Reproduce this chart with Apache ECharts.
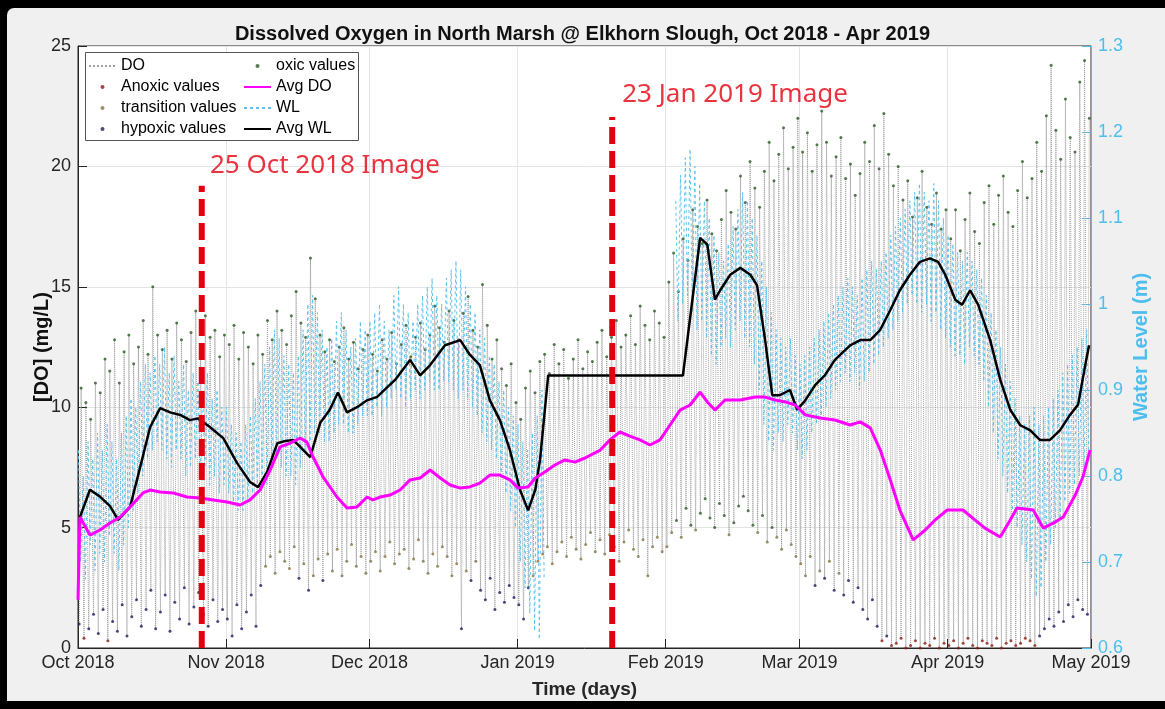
<!DOCTYPE html>
<html><head><meta charset="utf-8">
<script src="https://cdn.jsdelivr.net/npm/echarts@6/dist/echarts.min.js"></script>
<style>
html,body{margin:0;padding:0;background:#000;width:1165px;height:709px;overflow:hidden}
#frame{position:absolute;left:7px;top:8px;width:1158px;height:693px;background:#f0f0f0;border-radius:7px 0 0 0}
#chart{position:absolute;left:0;top:0;width:1165px;height:709px}
</style></head><body><div id="frame"></div><div id="chart"></div>
<script>
// ---- DATA (day index 0 = 1 Oct 2018) ----
const monthNames = ['Jan','Feb','Mar','Apr','May','Jun','Jul','Aug','Sep','Oct','Nov','Dec'];
// Daily DO maximum (mg/L)
const doHigh = [
  10.8,10.2,9.5,11.0,10.6,12.0,11.5,12.8,11.0,12.3,13.0,11.8,12.5,13.6,12.2,15.0,13.0,12.4,13.2,12.0,13.5,12.8,11.9,13.1,14.0,12.5,13.8,12.9,13.2,12.1,13.0, // Oct
  12.6,13.4,12.0,13.1,12.5,11.8,13.0,12.2,13.6,12.8,14.0,13.2,12.6,13.8,14.8,13.5,12.9,16.2,14.5,13.0,12.3,12.8,11.9,12.5,13.3,12.0,12.7,11.6,12.4,13.0, // Nov
  12.2,11.5,12.8,12.0,13.1,11.8,12.6,13.4,12.1,12.9,13.5,12.4,13.0,14.2,13.3,12.7,14.0,13.6,12.8,13.9,14.6,13.2,12.5,15.1,13.4,12.0,12.8,11.6,10.9,11.8,10.2, // Dec
  9.5,10.8,11.5,10.6,11.9,12.2,11.4,12.6,11.8,12.4,11.2,12.0,12.8,11.6,12.3,11.9,12.7,13.2,12.1,12.9,13.6,12.5,13.0,13.8,12.6,14.2,13.4,12.8,14.0,13.5,12.9, // Jan
  15.2,16.4,14.8,17.0,16.1,18.2,17.5,16.8,18.6,17.2,16.5,17.8,19.0,18.1,17.4,19.6,18.5,20.2,19.1,18.3,19.8,21.0,19.4,20.5,21.6,19.9,20.8,22.0, // Feb
  20.6,21.4,19.8,20.9,22.3,21.0,19.6,20.4,21.2,19.5,20.1,18.8,19.7,21.0,20.2,21.7,19.9,22.2,20.5,19.2,20.0,18.6,19.4,17.9,18.7,19.8,18.3,17.6,18.9,17.4,18.2, // Mar
  17.0,18.2,16.5,17.8,18.9,17.3,16.8,18.5,19.2,17.6,18.8,19.6,18.1,17.5,19.0,20.2,18.7,19.5,21.0,19.8,22.1,24.2,21.5,20.3,22.8,21.2,20.6,23.5,24.4,22.0 // Apr
];
// Daily DO minimum (mg/L)
const doLow = [
  1.0,0.4,0.8,1.4,0.6,1.6,0.3,1.1,0.7,1.8,0.5,1.3,2.0,0.9,1.6,2.4,0.8,1.5,2.2,0.7,1.9,1.2,2.5,1.0,1.7,2.3,1.4,0.9,2.0,1.1,1.6,
  1.2,0.5,1.8,0.8,1.5,2.2,0.9,2.6,3.4,3.8,3.1,4.0,3.6,3.3,4.2,2.9,3.5,2.4,3.0,3.7,2.8,3.9,3.2,4.1,3.0,3.6,4.3,3.4,3.8,3.1,
  3.6,4.0,3.2,3.8,4.4,3.5,3.9,4.1,3.3,3.7,4.5,3.6,3.1,3.9,3.4,4.2,3.8,3.0,3.5,0.8,3.2,2.8,3.6,2.4,2.0,2.9,1.6,2.3,1.9,2.6,2.1,
  1.8,1.2,2.5,3.0,3.6,3.9,4.2,3.5,4.0,4.4,3.8,4.6,4.1,3.7,4.3,4.8,4.0,4.5,3.9,4.7,4.2,3.6,4.4,4.9,4.1,3.8,4.5,3.0,4.2,4.6,4.0,
  4.2,4.8,5.3,4.6,5.8,5.1,4.9,5.6,6.2,5.4,5.0,6.0,5.5,4.7,5.2,5.9,6.3,5.7,5.1,4.8,5.5,4.4,5.0,4.6,4.1,4.9,4.3,3.8,
  3.5,3.0,3.8,2.6,3.2,2.9,3.6,2.4,3.1,2.2,2.8,1.9,2.5,1.6,1.2,2.0,0.9,0.3,0.5,0.1,0.2,0.4,0.0,0.1,0.3,0.0,0.2,0.1,0.4,0.0,0.2,
  0.1,0.3,0.0,0.2,0.4,0.1,0.0,0.3,0.2,0.1,0.4,0.0,0.2,0.3,0.1,0.2,0.4,0.3,0.1,0.5,0.8,1.2,0.9,1.5,1.1,1.8,1.3,2.0,1.6,1.4
];
// Daily water-level high / low (m); null = no record
const wlHigh = [
  0.83,0.80,0.84,0.82,0.85,0.83,0.86,0.84,0.82,0.85,0.87,0.89,0.88,0.91,0.93,0.92,0.94,0.93,0.95,0.92,0.94,0.91,0.93,0.90,0.92,0.91,0.90,0.92,0.89,0.90,0.88,
  0.88,0.86,0.85,0.84,0.86,0.87,0.89,0.91,0.93,0.95,0.97,0.96,0.94,0.93,0.92,0.94,0.97,1.00,1.01,0.99,0.97,0.95,0.96,0.98,0.99,0.97,0.95,0.96,0.98,0.97,
  0.98,0.99,1.00,0.98,0.97,1.01,1.02,1.00,0.99,0.98,1.00,1.01,1.02,1.03,1.01,1.00,1.03,1.04,1.05,1.04,1.02,1.00,0.99,0.97,0.96,0.94,0.93,0.91,0.90,0.88,0.87,
  0.86,0.84,0.83,0.85,0.87,0.90,null,null,null,null,null,null,null,null,null,null,null,null,null,null,null,null,null,null,null,null,null,null,null,null,null,
  null,null,1.12,1.15,1.17,1.18,1.16,1.14,1.12,1.10,1.08,1.06,1.05,1.07,1.09,1.11,1.13,1.12,1.10,1.08,1.05,1.02,0.99,0.97,0.96,0.95,0.96,0.94,
  0.93,0.94,0.95,0.96,0.97,0.98,0.99,1.00,1.01,1.02,1.03,1.02,1.01,1.03,1.04,1.05,1.04,1.05,1.06,1.08,1.09,1.10,1.11,1.12,1.13,1.14,1.13,1.12,1.14,1.12,1.10,
  1.08,1.07,1.06,1.05,1.06,1.05,1.04,1.03,1.01,0.99,0.97,0.95,0.93,0.91,0.89,0.87,0.86,0.87,0.88,0.86,0.87,0.88,0.89,0.90,0.92,0.93,0.94,0.95,0.96,0.97
];
const wlLow = [
  0.70,0.68,0.72,0.69,0.71,0.70,0.73,0.71,0.69,0.72,0.74,0.76,0.78,0.80,0.82,0.83,0.84,0.83,0.82,0.81,0.83,0.82,0.80,0.81,0.82,0.80,0.81,0.79,0.80,0.78,0.79,
  0.78,0.77,0.76,0.76,0.77,0.78,0.79,0.80,0.79,0.81,0.82,0.81,0.80,0.80,0.79,0.81,0.83,0.84,0.85,0.85,0.84,0.84,0.85,0.86,0.86,0.85,0.85,0.86,0.87,0.87,
  0.87,0.88,0.87,0.88,0.89,0.90,0.89,0.88,0.89,0.90,0.89,0.90,0.91,0.90,0.90,0.91,0.91,0.90,0.89,0.90,0.89,0.88,0.87,0.85,0.84,0.83,0.82,0.80,0.78,0.76,0.74,
  0.70,0.67,0.64,0.62,0.61,0.68,null,null,null,null,null,null,null,null,null,null,null,null,null,null,null,null,null,null,null,null,null,null,null,null,null,
  null,null,0.98,1.00,1.01,0.99,0.97,0.98,0.96,0.94,0.93,0.95,0.96,0.95,0.97,0.98,0.96,0.95,0.93,0.90,0.86,0.84,0.83,0.85,0.84,0.86,0.85,0.83,
  0.82,0.83,0.85,0.86,0.87,0.88,0.89,0.90,0.91,0.92,0.91,0.92,0.90,0.91,0.92,0.93,0.94,0.95,0.96,0.97,0.98,0.99,1.00,1.01,1.00,0.99,1.00,0.98,0.99,0.97,0.96,
  0.95,0.94,0.94,0.93,0.95,0.94,0.93,0.91,0.88,0.85,0.82,0.80,0.78,0.76,0.74,0.72,0.70,0.68,0.66,0.67,0.70,0.72,0.74,0.75,0.77,0.78,0.79,0.80,0.81,0.82
];
// Running average of DO: [day, mg/L]
const avgDO = [
  [0.0,2.0],[0.4,5.44],[2.5,4.69],[4.6,4.90],[6.7,5.19],[8.8,5.44],[10.9,5.86],[13.6,6.44],[15.1,6.56],[17.2,6.48],[19.9,6.44],[22.8,6.27],
  [25.5,6.23],[28.3,6.15],[31.2,6.06],[33.9,5.94],[36.0,6.15],[38.1,6.56],[40.2,7.39],[42.3,8.35],[44.4,8.51],[46.5,8.72],[47.9,8.55],
  [49.2,7.93],[51.3,7.10],[54.2,6.27],[56.3,5.81],[58.4,5.86],[60.5,6.27],[61.7,6.15],[63.2,6.27],[65.3,6.35],[67.4,6.56],[69.5,6.98],
  [71.6,7.06],[73.7,7.39],[75.8,7.06],[77.9,6.77],[80.0,6.64],[82.0,6.69],[84.1,6.85],[86.2,7.18],[88.3,7.18],[90.4,6.98],[92.1,6.64],
  [94.2,6.69],[95.7,7.06],[97.7,7.31],[99.8,7.60],[101.9,7.81],[104.0,7.72],[106.1,7.89],[109.3,8.22],[111.3,8.64],[113.4,8.97],
  [115.5,8.80],[117.6,8.64],[119.7,8.43],[121.8,8.64],[123.9,9.26],[126.0,9.88],[128.1,10.09],[130.2,10.63],[131.7,10.22],[133.3,9.88],
  [135.4,10.30],[138.6,10.30],[141.7,10.42],[143.8,10.42],[145.9,10.30],[148.0,10.22],[150.1,10.09],[152.2,9.68],[155.3,9.55],
  [158.4,9.47],[161.6,9.26],[163.7,9.39],[165.8,9.14],[167.9,8.22],[170.0,6.98],[172.0,5.73],[174.8,4.49],[177.3,4.90],[179.4,5.32],
  [181.9,5.73],[185.2,5.73],[187.7,5.32],[189.8,4.98],[193.0,4.61],[195.1,5.32],[196.5,5.81],[199.9,5.73],[202.0,4.98],[204.5,5.23],
  [206.2,5.44],[208.7,6.35],[210.3,7.10],[211.8,8.22]
];
// Running average of water level: [day, m]
const avgWL = [
  [0.4,0.752],[2.5,0.784],[4.6,0.776],[6.7,0.765],[8.4,0.749],[10.9,0.764],[13.0,0.810],[15.1,0.857],[17.2,0.879],[19.3,0.874],
  [21.4,0.871],[23.4,0.865],[25.1,0.867],[27.6,0.857],[30.4,0.844],[33.3,0.815],[36.0,0.793],[37.7,0.787],[39.6,0.805],[41.7,0.838],
  [42.9,0.840],[45.0,0.842],[46.5,0.834],[48.6,0.822],[50.7,0.862],[52.7,0.877],[54.4,0.897],[56.3,0.874],[58.4,0.880],[60.5,0.888],
  [62.6,0.892],[66.4,0.912],[69.5,0.935],[71.6,0.917],[73.7,0.929],[76.8,0.952],[80.0,0.958],[82.0,0.941],[84.1,0.929],[86.2,0.888],
  [88.3,0.865],[90.4,0.830],[92.5,0.784],[94.2,0.760],[95.7,0.784],[96.7,0.819],[98.4,0.917],[126.6,0.917],[130.2,1.077],[131.7,1.069],
  [133.3,1.005],[134.4,1.016],[136.5,1.034],[138.6,1.042],[140.7,1.034],[142.1,1.022],[143.8,0.958],[145.3,0.894],[146.9,0.894],
  [149.0,0.900],[150.5,0.877],[152.2,0.888],[154.3,0.906],[156.3,0.917],[158.4,0.935],[161.6,0.952],[163.7,0.958],[165.8,0.958],
  [167.9,0.970],[170.0,0.993],[172.0,1.016],[174.1,1.034],[176.2,1.049],[178.3,1.053],[180.0,1.049],[181.5,1.034],[183.6,1.005],
  [185.0,0.999],[186.7,1.016],[188.4,0.999],[190.9,0.958],[193.0,0.912],[195.1,0.877],[197.2,0.859],[199.3,0.853],[201.3,0.842],
  [203.4,0.842],[205.5,0.853],[207.6,0.871],[209.3,0.883],[211.0,0.935],[211.6,0.952]
];
// Image markers: [day, top of line (mg/L), label day, label value, text]
const imageMarks = [
  [25.9, 19.2, 27.6, 20.05, '25 Oct 2018 Image'],
  [111.8, 22.05, 113.9, 22.97, '23 Jan 2019 Image']
];
const legendCol1 = ['DO', 'Anoxic values', 'transition values', 'hypoxic values'];
const legendCol2 = ['oxic values', 'Avg DO', 'WL', 'Avg WL'];

// ---- BUILD ----
const DAY = 86400000;
const t0 = new Date(2018, 9, 1).getTime();
const tEnd = new Date(2019, 4, 1).getTime();
const tAt = d => t0 + d * DAY;

const doLine = [];
const groups = { anoxic: [], hypoxic: [], transition: [], oxic: [] };
function cat(v) { return v < 0.5 ? 'anoxic' : v < 3 ? 'hypoxic' : v < 5 ? 'transition' : 'oxic'; }
doLow.forEach((lo, i) => {
  const hi = doHigh[i];
  const a = [tAt(i + 0.25), lo], b = [tAt(i + 0.65), hi];
  doLine.push(a, b);
  groups[cat(lo)].push(a);
  groups[cat(hi)].push(b);
});
const wlLine = [];
wlHigh.forEach((hi, i) => {
  wlLine.push([tAt(i + 0.1), hi], [tAt(i + 0.55), wlLow[i]]);
});

const C = {
  grid: '#e4e4e4', axis: '#262626', wl: '#4DBEEE', red: '#e3000f',
  anoxic: '#8b1c12', transition: '#857545', hypoxic: '#1d1d5c', oxic: '#2c5a26'
};
const FONT = 'Liberation Sans, Arial, Helvetica, sans-serif';
const lineKinds = ['DO', 'Avg DO', 'WL', 'Avg WL'];

const series = [
  { name: 'DO', type: 'line', data: doLine, symbol: 'none', z: 1,
    lineStyle: { color: '#a0a0a0', width: 1, type: 'dotted' } },
  { name: 'Anoxic values', type: 'scatter', data: groups.anoxic, symbolSize: 3, z: 2, itemStyle: { color: C.anoxic } },
  { name: 'transition values', type: 'scatter', data: groups.transition, symbolSize: 3, z: 2, itemStyle: { color: C.transition } },
  { name: 'hypoxic values', type: 'scatter', data: groups.hypoxic, symbolSize: 3, z: 2, itemStyle: { color: C.hypoxic } },
  { name: 'oxic values', type: 'scatter', data: groups.oxic, symbolSize: 3, z: 2, itemStyle: { color: C.oxic } },
  { name: 'Avg DO', type: 'line', data: avgDO.map(p => [tAt(p[0]), p[1]]), symbol: 'none', z: 6,
    lineStyle: { color: '#ff00ff', width: 3 } },
  { name: 'WL', type: 'line', yAxisIndex: 1, data: wlLine, symbol: 'none', z: 3, connectNulls: false,
    lineStyle: { color: '#5cc2ee', width: 1, type: [3, 3] } },
  { name: 'Avg WL', type: 'line', yAxisIndex: 1, data: avgWL.map(p => [tAt(p[0]), p[1]]), symbol: 'none', z: 5,
    lineStyle: { color: '#000', width: 2.5 } }
];
imageMarks.forEach((m, k) => {
  series.push({ name: 'img' + k, type: 'line', data: [[tAt(m[0]), 0], [tAt(m[0]), m[1]]], symbol: 'none', z: 8,
    lineStyle: { color: C.red, width: 6, type: [17, 7], cap: 'butt' } });
  series.push({ name: 'lbl' + k, type: 'scatter', data: [[tAt(m[2]), m[3]]], symbolSize: 0, z: 9,
    label: { show: true, position: 'right', distance: 0, formatter: m[4], color: C.red, fontSize: 26, fontFamily: 'Noto Sans, sans-serif' } });
});

const legendItem = n => lineKinds.includes(n) ? { name: n, itemStyle: { opacity: 0 } } : n;
const legendBase = {
  orient: 'vertical', top: 58, itemGap: 5, itemWidth: 27, itemHeight: 4, padding: 0, z: 12,
  textStyle: { fontSize: 16, lineHeight: 16, color: '#000', fontFamily: FONT }
};

const chart = echarts.init(document.getElementById('chart'), null, { renderer: 'canvas' });
chart.setOption({
  animation: false,
  backgroundColor: 'transparent',
  textStyle: { fontFamily: FONT },
  title: { text: 'Dissolved Oxygen in North Marsh @ Elkhorn Slough, Oct 2018 - Apr 2019', left: 'center', top: 19,
    textStyle: { fontSize: 20, fontWeight: 'bold', color: '#111', fontFamily: FONT } },
  grid: { left: 78, right: 74, top: 46, bottom: 61, show: true, backgroundColor: '#fff', borderColor: C.axis, borderWidth: 1 },
  graphic: [{ type: 'rect', left: 85, top: 52, z: 11, shape: { width: 273, height: 88 },
    style: { fill: '#fff', stroke: '#555', lineWidth: 1 } }],
  legend: [
    Object.assign({ left: 88, data: legendCol1.map(legendItem) }, legendBase),
    Object.assign({ left: 243, data: legendCol2.map(legendItem) }, legendBase)
  ],
  xAxis: {
    type: 'time', min: t0, max: tEnd, splitNumber: 7,
    name: 'Time (days)', nameLocation: 'middle', nameGap: 32, nameMoveOverlap: false,
    nameTextStyle: { fontSize: 19, fontWeight: 'bold', color: '#262626' },
    axisLine: { lineStyle: { color: C.axis } },
    axisTick: { inside: true, length: 9, lineStyle: { color: C.axis } },
    axisLabel: { fontSize: 18, color: '#262626', margin: 6, hideOverlap: false,
      formatter: v => { const d = new Date(v); return monthNames[d.getMonth()] + ' ' + d.getFullYear(); } },
    splitLine: { show: true, lineStyle: { color: C.grid } }
  },
  yAxis: [
    { type: 'value', min: 0, max: 25, interval: 5, name: '[DO] (mg/L)', nameLocation: 'middle', nameGap: 26, nameMoveOverlap: false,
      nameTextStyle: { fontSize: 20, fontWeight: 'bold', color: '#111' },
      axisLine: { show: true, lineStyle: { color: C.axis } },
      axisTick: { show: true, inside: true, length: 9, lineStyle: { color: C.axis } },
      axisLabel: { fontSize: 18, color: '#262626', margin: 7 },
      splitLine: { show: true, lineStyle: { color: C.grid } } },
    { type: 'value', min: 0.6, max: 1.3, interval: 0.1, position: 'right', name: 'Water Level (m)', nameLocation: 'middle', nameGap: 40, nameMoveOverlap: false,
      nameTextStyle: { fontSize: 20, fontWeight: 'bold', color: C.wl },
      axisLine: { show: true, lineStyle: { color: C.wl } },
      axisTick: { show: true, inside: true, length: 9, lineStyle: { color: C.wl } },
      axisLabel: { fontSize: 18, color: C.wl, margin: 7, formatter: v => String(Math.round(v * 10) / 10) },
      splitLine: { show: false } }
  ],
  series
});
</script></body></html>
